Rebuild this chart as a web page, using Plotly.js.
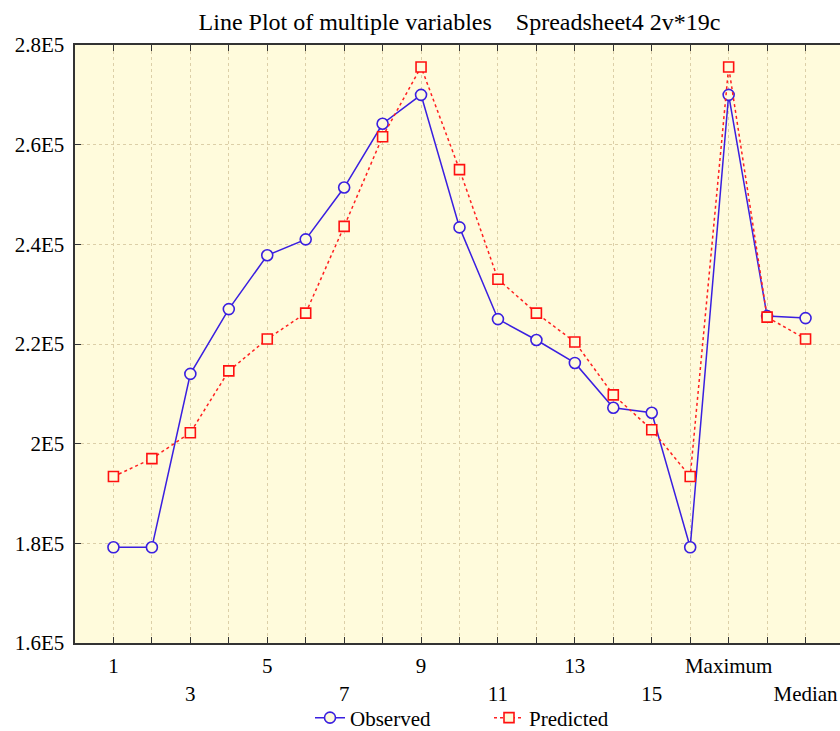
<!DOCTYPE html>
<html>
<head>
<meta charset="utf-8">
<script src="https://cdn.plot.ly/plotly-3.0.1.min.js"></script>
<style>
html,body{margin:0;padding:0;overflow:hidden;background:#fff;}
#chart{width:850px;height:731px;}
</style>
</head>
<body>
<div id="chart"></div>
<script>
const categories = ['1','2','3','4','5','6','7','8','9','10','11','12','13','14','15','Minimum','Maximum','Mean','Median'];
const observed = [179200,179200,214000,227000,237800,241000,251400,264200,270000,243400,225000,220800,216200,207200,206200,179200,270000,225600,225200];
const predicted = [193400,197000,202200,214600,221000,226200,243600,261600,275600,255000,233000,226200,220400,209800,202800,193400,275600,225400,221000];
const yTickVals = [160000,180000,200000,220000,240000,260000,280000];
const yTickText = ['1.6E5','1.8E5','2E5','2.2E5','2.4E5','2.6E5','2.8E5'];

// two-row x labels: every 2nd category labeled, alternating rows
const xTickText = categories.map((c, i) => {
  if (i % 2 === 1) return '';
  return (i % 4 === 0) ? c : '<br>' + c;
});

const font = 'Liberation Serif, Times New Roman, serif';
const bg = '#fffbdc';

const traces = [
  {
    x: categories, y: observed, name: 'Observed', type: 'scatter', mode: 'lines+markers',
    line: {color: '#3a1fe0', width: 1.5},
    marker: {symbol: 'circle', size: 11, color: bg, line: {color: '#3a1fe0', width: 1.6}},
    cliponaxis: false
  },
  {
    x: categories, y: predicted, name: 'Predicted', type: 'scatter', mode: 'lines+markers',
    line: {color: '#ff2020', width: 1.5, dash: 'dot'},
    marker: {symbol: 'square', size: 10, color: bg, line: {color: '#ff1010', width: 1.6}},
    cliponaxis: false
  }
];

const layout = {
  width: 850, height: 731,
  margin: {l: 75, r: 6, t: 45, b: 88},
  paper_bgcolor: '#ffffff',
  plot_bgcolor: bg,
  font: {family: font, size: 21, color: '#000'},
  title: {
    text: 'Line Plot of multiple variables\u00a0\u00a0\u00a0\u00a0Spreadsheet4 2v*19c',
    font: {family: font, size: 24, color: '#000'},
    x: 0.5, xref: 'paper', xanchor: 'center',
    y: 1 - 22/731, yref: 'container', yanchor: 'middle'
  },
  xaxis: {
    type: 'category',
    range: [-1, 19],
    tickmode: 'array', tickvals: categories, ticktext: xTickText,
    tickangle: 0,
    ticks: 'inside', ticklen: 6, tickcolor: '#333', tickwidth: 1,
    showline: true, linecolor: '#333', linewidth: 2, mirror: 'allticks',
    showgrid: true, gridcolor: '#dccfa8', griddash: 'dot', gridwidth: 1,
    zeroline: false, automargin: false,
    tickfont: {family: font, size: 21},
    ticklabelstandoff: 3,
    fixedrange: true
  },
  yaxis: {
    range: [160000, 280000],
    tickmode: 'array', tickvals: yTickVals, ticktext: yTickText,
    ticks: 'inside', ticklen: 6, tickcolor: '#333', tickwidth: 1,
    showline: true, linecolor: '#333', linewidth: 2.5,
    showgrid: true, gridcolor: '#dccfa8', griddash: 'dot', gridwidth: 1,
    zeroline: false, automargin: false,
    tickfont: {family: font, size: 21},
    ticklabelstandoff: 4,
    fixedrange: true
  },
  showlegend: true,
  legend: {
    orientation: 'h', x: 310/850, xanchor: 'left', xref: 'container',
    y: 1 - 718/731, yref: 'container', yanchor: 'middle',
    font: {family: font, size: 21},
    entrywidth: 134, entrywidthmode: 'pixels',
    bgcolor: 'rgba(0,0,0,0)', tracegroupgap: 0
  }
};

Plotly.newPlot('chart', traces, layout, {displayModeBar: false, staticPlot: true});
</script>
</body>
</html>
